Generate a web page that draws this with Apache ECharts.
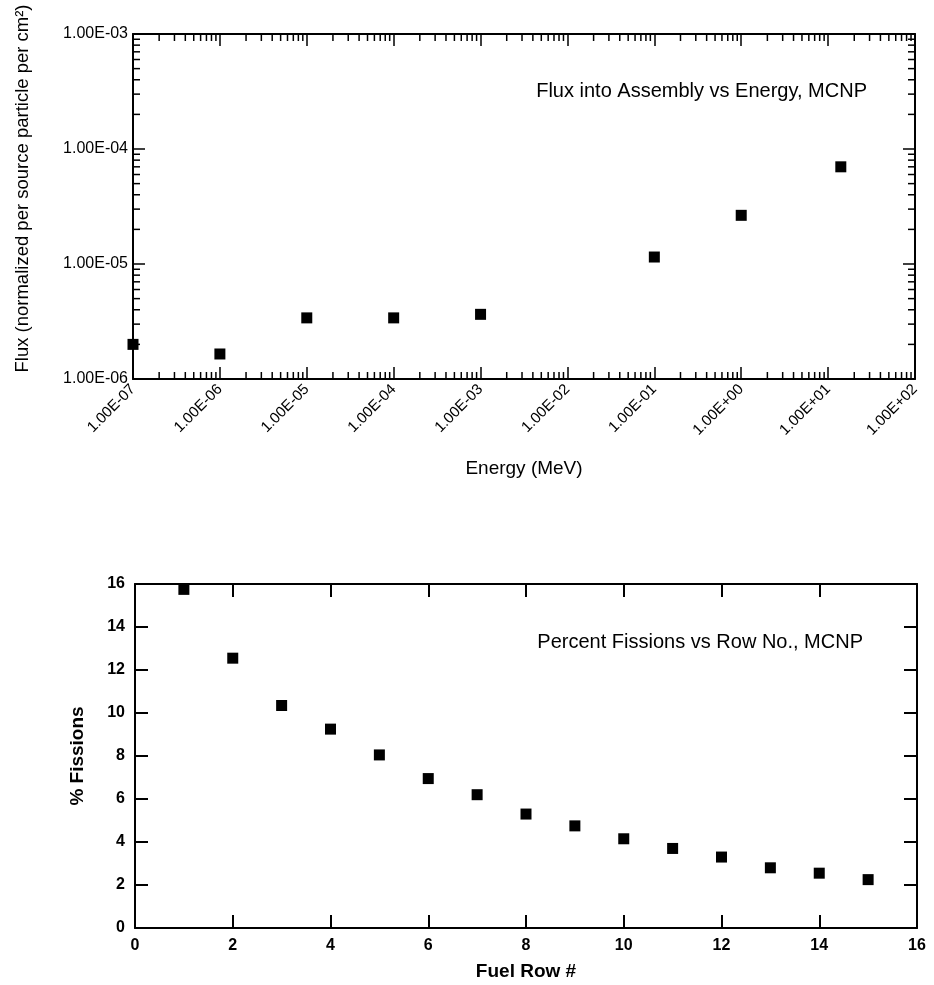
<!DOCTYPE html>
<html>
<head>
<meta charset="utf-8">
<title>MCNP flux and fission distribution</title>
<script src="https://cdn.jsdelivr.net/npm/echarts@6/dist/echarts.min.js"></script>
<style>
  html, body { margin: 0; padding: 0; background: #fff; }
  #chart { width: 934px; height: 985px; }
</style>
</head>
<body>
<div id="chart"></div>
<script>
// Flux into the assembly per energy bin (MeV), normalized per source particle per cm^2
const energyMeV = [1e-7, 1e-6, 1e-5, 1e-4, 1e-3, 1e-1, 1, 14];
const fluxPerCm2 = [2.0e-6, 1.65e-6, 3.4e-6, 3.4e-6, 3.65e-6, 1.15e-5, 2.65e-5, 7.0e-5];

// Percent of fissions in each fuel row
const fuelRow = [1, 2, 3, 4, 5, 6, 7, 8, 9, 10, 11, 12, 13, 14, 15];
const percentFissions = [15.75, 12.55, 10.35, 9.25, 8.05, 6.95, 6.2, 5.3, 4.75, 4.15, 3.7, 3.3, 2.8, 2.55, 2.25];

// Axis ranges
const energyRange = [1e-7, 1e2];
const fluxRange = [1e-6, 1e-3];
const rowRange = [0, 16];
const percentRange = [0, 16];

const FONT = '"Liberation Sans", Arial, Helvetica, sans-serif';

// 1.00E-03 style labels
function sci(v) {
  const e = Math.round(Math.log10(v));
  const m = v / Math.pow(10, e);
  return m.toFixed(2) + 'E' + (e < 0 ? '-' : '+') + String(Math.abs(e)).padStart(2, '0');
}

// 2..9 x 10^k positions between decades, for log minor ticks
function logMinor(lo, hi) {
  const out = [];
  for (let e = Math.round(Math.log10(lo)); e < Math.round(Math.log10(hi)); e++) {
    for (let m = 2; m <= 9; m++) out.push(m * Math.pow(10, e));
  }
  return out;
}
const energyMinor = logMinor(energyRange[0], energyRange[1]);
const fluxMinor = logMinor(fluxRange[0], fluxRange[1]);

const MINOR_LEN = 7;
const lineStyle = { stroke: '#000', lineWidth: 1.5 };

const chart = echarts.init(document.getElementById('chart'), null, { renderer: 'canvas' });

const axisLine = { show: true, onZero: false, lineStyle: { color: '#000', width: 2 } };

function logAxisCommon(range, n) {
  return {
    type: 'log', logBase: 10, min: range[0], max: range[1], splitNumber: n,
    axisLine: axisLine,
    axisTick: { show: true, inside: true, length: 12, lineStyle: { color: '#000', width: 1.5 } },
    splitLine: { show: false }, minorTick: { show: false }
  };
}

function linAxisCommon(range) {
  return {
    type: 'value', min: range[0], max: range[1], interval: 2,
    axisLine: axisLine,
    axisTick: { show: true, inside: true, length: 13, lineStyle: { color: '#000', width: 2 } },
    splitLine: { show: false }
  };
}

const markStyle = { color: '#000', opacity: 1 };

const option = {
  animation: false,
  backgroundColor: '#fff',
  title: [
    {
      text: 'Flux into Assembly vs Energy, MCNP',
      right: 62, top: 76,
      textStyle: { fontFamily: FONT, fontSize: 20, fontWeight: 'normal', color: '#000' }
    },
    {
      text: 'Percent Fissions vs Row No., MCNP',
      right: 66, top: 627,
      textStyle: { fontFamily: FONT, fontSize: 20, fontWeight: 'normal', color: '#000' }
    }
  ],
  grid: [
    { left: 133, top: 34, width: 782, height: 345 },
    { left: 135, top: 584, width: 782, height: 344 }
  ],
  xAxis: [
    Object.assign(logAxisCommon(energyRange, 9), {
      gridIndex: 0, position: 'bottom',
      name: 'Energy (MeV)', nameLocation: 'middle', nameGap: 80,
      nameTextStyle: { fontFamily: FONT, fontSize: 19, color: '#000' },
      axisLabel: {
        rotate: 45, margin: 8, formatter: sci,
        fontFamily: FONT, fontSize: 15, color: '#000'
      }
    }),
    Object.assign(logAxisCommon(energyRange, 9), {
      gridIndex: 0, position: 'top', axisLabel: { show: false }
    }),
    Object.assign(linAxisCommon(rowRange), {
      gridIndex: 1, position: 'bottom',
      name: 'Fuel Row #', nameLocation: 'middle', nameGap: 34,
      nameTextStyle: { fontFamily: FONT, fontSize: 19, fontWeight: 'bold', color: '#000' },
      axisLabel: { margin: 10, fontFamily: FONT, fontSize: 16, fontWeight: 'bold', color: '#000' }
    }),
    Object.assign(linAxisCommon(rowRange), {
      gridIndex: 1, position: 'top', axisLabel: { show: false }
    })
  ],
  yAxis: [
    Object.assign(logAxisCommon(fluxRange, 3), {
      gridIndex: 0, position: 'left',
      name: 'Flux (normalized per source particle per cm²)', nameLocation: 'middle', nameGap: 101,
      nameTextStyle: { fontFamily: FONT, fontSize: 18.5, color: '#000', padding: [0, 0, 0, 36] },
      axisLabel: { margin: 5, formatter: sci, fontFamily: FONT, fontSize: 16, color: '#000' }
    }),
    Object.assign(logAxisCommon(fluxRange, 3), {
      gridIndex: 0, position: 'right', axisLabel: { show: false }
    }),
    Object.assign(linAxisCommon(percentRange), {
      gridIndex: 1, position: 'left',
      name: '% Fissions', nameLocation: 'middle', nameGap: 48,
      nameTextStyle: { fontFamily: FONT, fontSize: 19, fontWeight: 'bold', color: '#000' },
      axisLabel: { margin: 10, fontFamily: FONT, fontSize: 16, fontWeight: 'bold', color: '#000' }
    }),
    Object.assign(linAxisCommon(percentRange), {
      gridIndex: 1, position: 'right', axisLabel: { show: false }
    })
  ],
  series: [
    {
      // minor ticks along the energy axis, bottom and top edges
      type: 'custom', xAxisIndex: 0, yAxisIndex: 0, silent: true, clip: false,
      data: energyMinor.map(v => [v, fluxRange[0]]),
      renderItem: function (params, api) {
        const b = api.coord([api.value(0), fluxRange[0]]);
        const t = api.coord([api.value(0), fluxRange[1]]);
        return {
          type: 'group', children: [
            { type: 'line', shape: { x1: b[0], y1: b[1], x2: b[0], y2: b[1] - MINOR_LEN }, style: lineStyle },
            { type: 'line', shape: { x1: t[0], y1: t[1], x2: t[0], y2: t[1] + MINOR_LEN }, style: lineStyle }
          ]
        };
      }
    },
    {
      // minor ticks along the flux axis, left and right edges
      type: 'custom', xAxisIndex: 0, yAxisIndex: 0, silent: true, clip: false,
      data: fluxMinor.map(v => [energyRange[0], v]),
      renderItem: function (params, api) {
        const l = api.coord([energyRange[0], api.value(1)]);
        const r = api.coord([energyRange[1], api.value(1)]);
        return {
          type: 'group', children: [
            { type: 'line', shape: { x1: l[0], y1: l[1], x2: l[0] + MINOR_LEN, y2: l[1] }, style: lineStyle },
            { type: 'line', shape: { x1: r[0], y1: r[1], x2: r[0] - MINOR_LEN, y2: r[1] }, style: lineStyle }
          ]
        };
      }
    },
    {
      name: 'Flux', type: 'scatter', xAxisIndex: 0, yAxisIndex: 0, clip: false,
      symbol: 'rect', symbolSize: 11,
      itemStyle: markStyle,
      data: energyMeV.map((e, i) => [e, fluxPerCm2[i]])
    },
    {
      name: '% Fissions', type: 'scatter', xAxisIndex: 2, yAxisIndex: 2, clip: false,
      symbol: 'rect', symbolSize: 11,
      itemStyle: markStyle,
      data: fuelRow.map((r, i) => [r, percentFissions[i]])
    }
  ]
};

chart.setOption(option);
</script>
</body>
</html>
